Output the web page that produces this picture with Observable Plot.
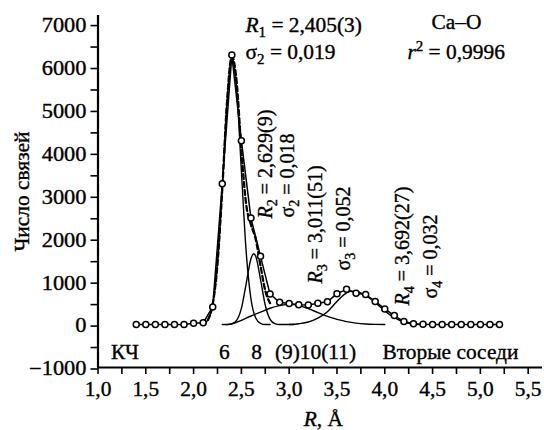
<!DOCTYPE html>
<html><head><meta charset="utf-8">
<script src="https://cdn.jsdelivr.net/npm/d3@7"></script>
<script src="https://cdn.jsdelivr.net/npm/@observablehq/plot@0.6"></script>
<style>
body{margin:0;background:#fff;}
</style></head><body><div id="chart"></div>
<script>
// Experimental points (R, Å ; number of bonds)
const rData = [1.4,1.5,1.6,1.7,1.8,1.9,2.0,2.1,2.2,2.3,2.4,2.5,2.6,2.7,2.8,2.9,3.0,3.1,3.2,3.3,3.4,3.5,3.6,3.7,3.8,3.9,4.0,4.1,4.2,4.3,4.4,4.5,4.6,4.7,4.8,4.9,5.0,5.1,5.2];
const nData = [0,0,0,0,0,0,30,40,410,3280,6280,4280,2480,1590,710,520,490,460,455,495,530,720,820,730,700,540,365,210,70,20,5,0,0,0,0,0,0,0,0];

// Gaussian components
const rC1 = [2.1,2.15,2.2,2.25,2.3,2.35,2.4,2.45,2.5,2.55,2.6,2.65,2.7,2.75,2.8];
const nC1 = [0,110,470,1420,3160,5190,6250,5510,3580,1700,600,155,30,0,0];
const rC2 = [2.3,2.35,2.4,2.45,2.5,2.55,2.6,2.63,2.65,2.7,2.75,2.8,2.85,2.9,3.05];
const nC2 = [0,0,15,96,376,950,1535,1650,1590,1054,450,122,22,0,0];
const rC3 = [2.35,2.4,2.5,2.6,2.7,2.8,2.9,3.0,3.1,3.2,3.3,3.4,3.5,3.6,3.7,3.8,3.9,4.0];
const nC3 = [0,20,100,200,290,380,440,470,440,370,280,190,120,70,35,15,5,0];
const rC4 = [3.0,3.1,3.2,3.3,3.4,3.5,3.6,3.65,3.7,3.8,3.9,4.0,4.1,4.2,4.3,4.35];
const nC4 = [0,20,60,150,300,540,740,780,770,680,510,320,160,60,15,0];

// Summed fit (dashed) near the main peak
const rFit = [2.15,2.2,2.25,2.3,2.35,2.4,2.45,2.5,2.55,2.6,2.65,2.7,2.75,2.8];
const nFit = [110,470,1420,3160,5190,6250,5660,4060,2800,2330,1990,1370,790,500];

// Ticks
const xTicks = [1,1.25,1.5,1.75,2,2.25,2.5,2.75,3,3.25,3.5,3.75,4,4.25,4.5,4.75,5,5.25,5.5];
const yTicks = [-1000,-500,0,500,1000,1500,2000,2500,3000,3500,4000,4500,5000,5500,6000,6500,7000];

// Annotations (*x* italic, _c subscript, ^c superscript)
const noteText = ["*R*_1 = 2,405(3)", "σ_2 = 0,019", "Ca–O", "*r*^2 = 0,9996"];
const noteR = [2.543, 2.543, 4.488, 4.237];
const noteN = [6827, 6198, 6897, 6198];
const vertText = ["*R*_2 = 2,629(9)", "σ_2 = 0,018", "*R*_3 = 3,011(51)", "σ_3 = 0,052", "*R*_4 = 3,692(27)", "σ_4 = 0,032"];
const vertR = [2.825, 3.055, 3.348, 3.641, 4.258, 4.551];
const vertN = [2471, 2494, 957, 1260, 445, 608];
const cnText = ["КЧ", "6", "8", "(9)10(11)", "Вторые соседи"];
const cnR = [1.282, 2.323, 2.658, 3.275, 4.687];
const cnN = [-813, -813, -813, -813, -813];

const yTitle = "Число связей";
const xTitle = "*R*, Å";

const fmtX = d => (Math.round(d * 4) % 2 === 0) ? d.toFixed(1).replace(".", ",") : "";
const fmtY = d => (d % 1000 === 0) ? (d < 0 ? "\u2212" + Math.abs(d) : String(d)) : "";

const lineOpts = {stroke: "black", strokeWidth: 1.4, curve: "monotone-x"};
const FONT = "Liberation Serif, DejaVu Serif, serif";

const svg = Plot.plot({
  width: 544, height: 430,
  marginLeft: 97.5, marginRight: 2, marginTop: 15, marginBottom: 63,
  style: {color: "black", background: "white", overflow: "visible"},
  x: {domain: [1, 5.65]},
  y: {domain: [-1000, 7200]},
  marks: [
    Plot.axisX({ticks: xTicks, tickFormat: fmtX, tickSize: 7, tickPadding: 7, strokeWidth: 1.6, label: null, fontSize: 20}),
    Plot.axisY({ticks: yTicks, tickFormat: fmtY, tickSize: 7, tickPadding: 4.5, strokeWidth: 1.6, label: null, fontSize: 20, dy: 1.5}),
    Plot.ruleX([1], {strokeWidth: 2.2}),
    Plot.ruleY([-1000], {strokeWidth: 2.2}),
    Plot.line(rC1, {x: rC1, y: nC1, ...lineOpts}),
    Plot.line(rC2, {x: rC2, y: nC2, ...lineOpts}),
    Plot.line(rC3, {x: rC3, y: nC3, ...lineOpts}),
    Plot.line(rC4, {x: rC4, y: nC4, ...lineOpts}),
    Plot.line(rFit, {x: rFit, y: nFit, stroke: "black", strokeWidth: 2.3, strokeDasharray: "5,3", curve: "monotone-x"}),
    Plot.line(rData, {x: rData, y: nData, stroke: "black", strokeWidth: 1.5}),
    Plot.dot(rData, {x: rData, y: nData, r: 3, fill: "white", stroke: "black", strokeWidth: 1.5}),
    Plot.text(noteText, {x: noteR, y: noteN, text: d => d, textAnchor: "start", lineAnchor: "bottom", fontSize: 20}),
    Plot.text(vertText, {x: vertR, y: vertN, text: d => d, rotate: -90, textAnchor: "start", lineAnchor: "bottom", fontSize: 20}),
    Plot.text(cnText, {x: cnR, y: cnN, text: d => d, textAnchor: "middle", lineAnchor: "bottom", fontSize: 20}),
    Plot.text([yTitle], {frameAnchor: "left", rotate: -90, dx: -69, text: d => d, textAnchor: "middle", lineAnchor: "bottom", fontSize: 20}),
    Plot.text([xTitle], {frameAnchor: "bottom", dy: 58, dx: 3, text: d => d, textAnchor: "middle", lineAnchor: "bottom", fontSize: 20})
  ]
});

const NS = "http://www.w3.org/2000/svg";
function rich(t) {
  const s = t.textContent;
  if (!/[*_^]/.test(s) || t.children.length) return;
  t.textContent = "";
  let i = 0, shift = 0, buf = "";
  const flush = () => { if (buf) { const ts = document.createElementNS(NS, "tspan"); ts.textContent = buf; if (shift) { ts.setAttribute("dy", -shift); shift = 0; } t.appendChild(ts); buf = ""; } };
  while (i < s.length) {
    const c = s[i];
    if (c === "*") {
      flush();
      const j = s.indexOf("*", i + 1);
      const ts = document.createElementNS(NS, "tspan");
      ts.textContent = s.slice(i + 1, j);
      ts.setAttribute("font-style", "italic");
      if (shift) { ts.setAttribute("dy", -shift); shift = 0; }
      t.appendChild(ts);
      i = j + 1;
    } else if (c === "_" || c === "^") {
      flush();
      const ts = document.createElementNS(NS, "tspan");
      ts.textContent = s[i + 1];
      ts.setAttribute("font-size", "70%");
      const d = c === "_" ? 5 : -8;
      ts.setAttribute("dy", d - shift);
      shift = d;
      t.appendChild(ts);
      i += 2;
    } else { buf += c; i++; }
  }
  flush();
}
svg.setAttribute("font-family", FONT);
svg.querySelectorAll("[font-family]").forEach(g => g.setAttribute("font-family", FONT));
svg.querySelectorAll("text").forEach(t => {
  const g = t.closest("g");
  const lab = g ? (g.getAttribute("aria-label") || "") : "";
  let tr = t.getAttribute("transform") || "";
  let s = 1.07;
  if (/y-axis/.test(lab)) s = 1.12;
  else if (/rotate/.test(tr) && t.textContent !== yTitle) s = 1.0;
  rich(t);
  t.setAttribute("font-family", FONT);
  t.setAttribute("stroke", "black");
  t.setAttribute("stroke-width", "0.35");
  t.setAttribute("fill", "black");
  const xa = t.getAttribute("x");
  if (xa && /^-?[\d.]+$/.test(xa)) { tr += ` translate(${xa},0)`; t.removeAttribute("x"); }
  t.setAttribute("transform", (tr ? tr + " " : "") + `scale(${s},1)`);
});
document.getElementById("chart").appendChild(svg);
</script></body></html>
